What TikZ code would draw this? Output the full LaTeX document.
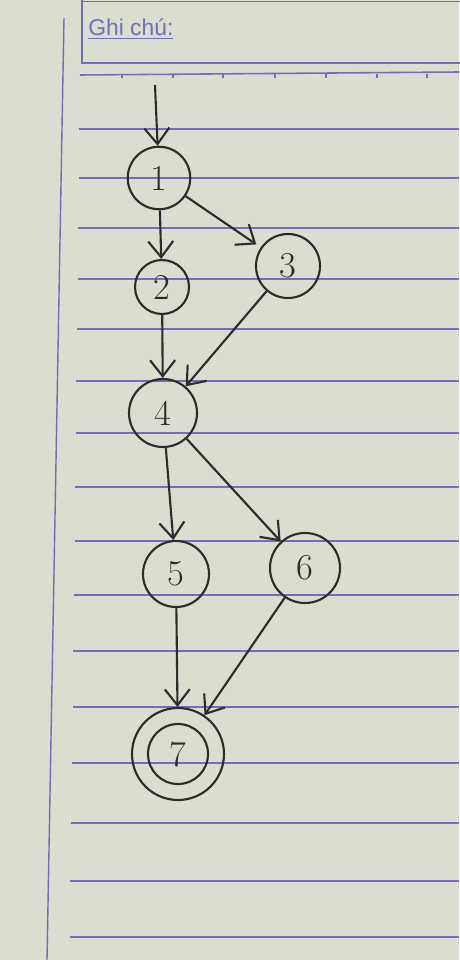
\documentclass[tikz,border=0pt]{standalone}
\usepackage{fontspec}
\newfontfamily\notefont{Liberation Sans}
\usepackage{xcolor}
\usetikzlibrary{arrows.meta, positioning}

\definecolor{paper}{RGB}{218,221,207}
\definecolor{rulecol}{RGB}{112,112,186}
\definecolor{ink}{RGB}{44,44,44}

\begin{document}
\begin{tikzpicture}[
  arrow/.style={-{Straight Barb[length=3.2mm, width=5mm]}, line width=1.2pt, ink},
  state/.style={circle, draw=ink, line width=1.2pt, minimum size=1.3cm, inner sep=0pt, font=\huge, text=ink},
  paperline/.style={rulecol, line width=0.9pt}
]
\useasboundingbox (0,0) rectangle (9.18,-19.2);
\fill[paper] (0,0) rectangle (9.18,-19.2);

% notebook page
\draw[paperline, line width=0.7pt] (1.64,0.1) |- (9.3,-1.26);
\draw[paperline, line width=0.7pt] (1.64,-0.03) -- (9.3,-0.03);
\draw[paperline] (1.60,-1.50) -- (9.18,-1.44);
\foreach \tx in {2.44,3.46,4.46,5.50,6.52,7.54,8.54}
  \draw[paperline, line width=1.2pt] (\tx,-1.48) -- (\tx,-1.56);
\draw[paperline, line width=0.8pt] (1.28,-0.36) -- (0.94,-19.2);
\foreach \y in {2.58,3.56,4.56,5.58,6.58,7.62,8.66,9.74,10.82,11.90,13.02,14.14,15.26,16.46,17.62,18.74} {
  \pgfmathsetmacro{\xs}{1.62-0.012*\y}
  \draw[paperline] (\xs,-\y) -- (9.18,-\y);
}
\node[anchor=west, font=\notefont\fontsize{13}{15}\selectfont, text=rulecol, inner sep=0pt] (title) at (1.76,-0.58) {\underline{Ghi chú:}};

% graph
\node[state, minimum size=1.25cm] (n1) at (3.18,-3.56) {1};
\node[state, minimum size=1.08cm] (n2) at (3.24,-5.74) {2};
\node[state, minimum size=1.28cm] (n3) at (5.76,-5.32) {3};
\node[state, minimum size=1.36cm] (n4) at (3.26,-8.26) {4};
\node[state, minimum size=1.32cm] (n5) at (3.52,-11.48) {5};
\node[state, minimum size=1.40cm] (n6) at (6.10,-11.36) {6};
\node[state, minimum size=1.84cm] (n7) at (3.56,-15.08) {};
\node[state, minimum size=1.20cm] (n7in) at (n7) {7};

\coordinate (start) at (3.10,-1.70);
\draw[arrow] (start) -- (n1);
\draw[arrow] (n1) -- (n2);
\draw[arrow, shorten >=3pt] (n1) -- (n3);
\draw[arrow] (n2) -- (n4);
\draw[arrow] (n3) -- (n4);
\draw[arrow] (n4) -- (n5);
\draw[arrow] (n4) -- (n6);
\draw[arrow] (n5) -- (n7);
\draw[arrow] (n6) -- (n7);
\end{tikzpicture}
\end{document}
